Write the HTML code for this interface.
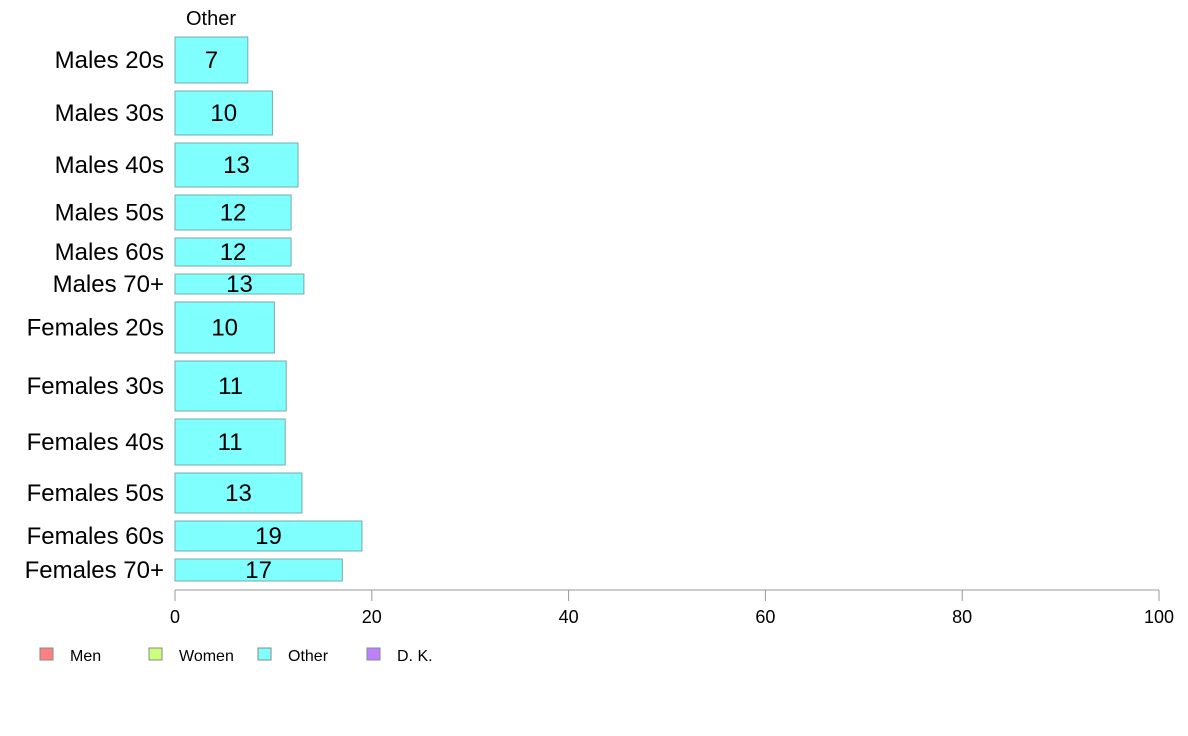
<!DOCTYPE html>
<html><head><meta charset="utf-8"><style>
body{margin:0;background:#fff;}
svg{display:block;font-family:"Liberation Sans",Arial,sans-serif;}
</style></head><body>
<svg id="c" width="1188" height="736">
<text x="211" y="25" font-size="20" text-anchor="middle">Other</text>
<g id="bars"></g>
<g id="axis"></g>
<g id="legend"></g>
</svg>
<script>
const categories=["Males 20s","Males 30s","Males 40s","Males 50s","Males 60s","Males 70+","Females 20s","Females 30s","Females 40s","Females 50s","Females 60s","Females 70+"];
const values=[7.4,9.9,12.5,11.8,11.8,13.1,10.1,11.3,11.2,12.9,19.0,17.0];
const labels=["7","10","13","12","12","13","10","11","11","13","19","17"];
const weights=[46,44,44,35,28,20,51,50,46,40,30,22];
const ticks=[0,20,40,60,80,100];
const legendItems=["Men","Women","Other","D. K."];
const legendColors=["#ff8080","#ccff80","#80ffff","#bf80ff"];
const NS="http://www.w3.org/2000/svg";
const x0=175,x1=1159,yTop=37,yBot=581,gap=8;
const xs=v=>x0+(x1-x0)*v/100;
const totW=weights.reduce((a,b)=>a+b,0);
const avail=(yBot-yTop)-gap*(weights.length-1);
function mk(t,a,p){const e=document.createElementNS(NS,t);for(const k in a)e.setAttribute(k,a[k]);p.appendChild(e);return e;}
const bars=document.getElementById('bars');
let y=yTop;
categories.forEach((c,i)=>{
 const h=avail*weights[i]/totW;
 const r=mk('rect',{x:x0,y:y,width:xs(values[i])-x0,height:h,fill:'#80ffff',stroke:'#7aa8a8','stroke-width':1},bars);
 
 
 const t=mk('text',{x:(x0+xs(values[i]))/2,y:y+h/2+8,'font-size':24,'text-anchor':'middle'},bars);
 t.textContent=labels[i];
 
 
 const l=mk('text',{x:164,y:y+h/2+8,'font-size':24,'text-anchor':'end'},bars);
 l.textContent=c;
 
 
 y+=h+gap;
});
const ax=document.getElementById('axis');
const line=mk('line',{x1:x0,x2:x1,y1:590,y2:590,stroke:'#999'},ax);


ticks.forEach(v=>{
 const tk=mk('line',{x1:xs(v),x2:xs(v),y1:590,y2:601,stroke:'#999'},ax);
 
 
 const t=mk('text',{x:xs(v),y:623,'font-size':18,'text-anchor':'middle'},ax);
 t.textContent=v;
 
 
});
const lg=document.getElementById('legend');
legendItems.forEach((n,i)=>{
 const lx=40+i*109;
 const r=mk('rect',{x:lx,y:648,width:13,height:12,fill:legendColors[i],stroke:'#888'},lg);
 
 
 const t=mk('text',{x:lx+30,y:661,'font-size':16},lg);
 t.textContent=n;
 
 
});
</script>
</body></html>
